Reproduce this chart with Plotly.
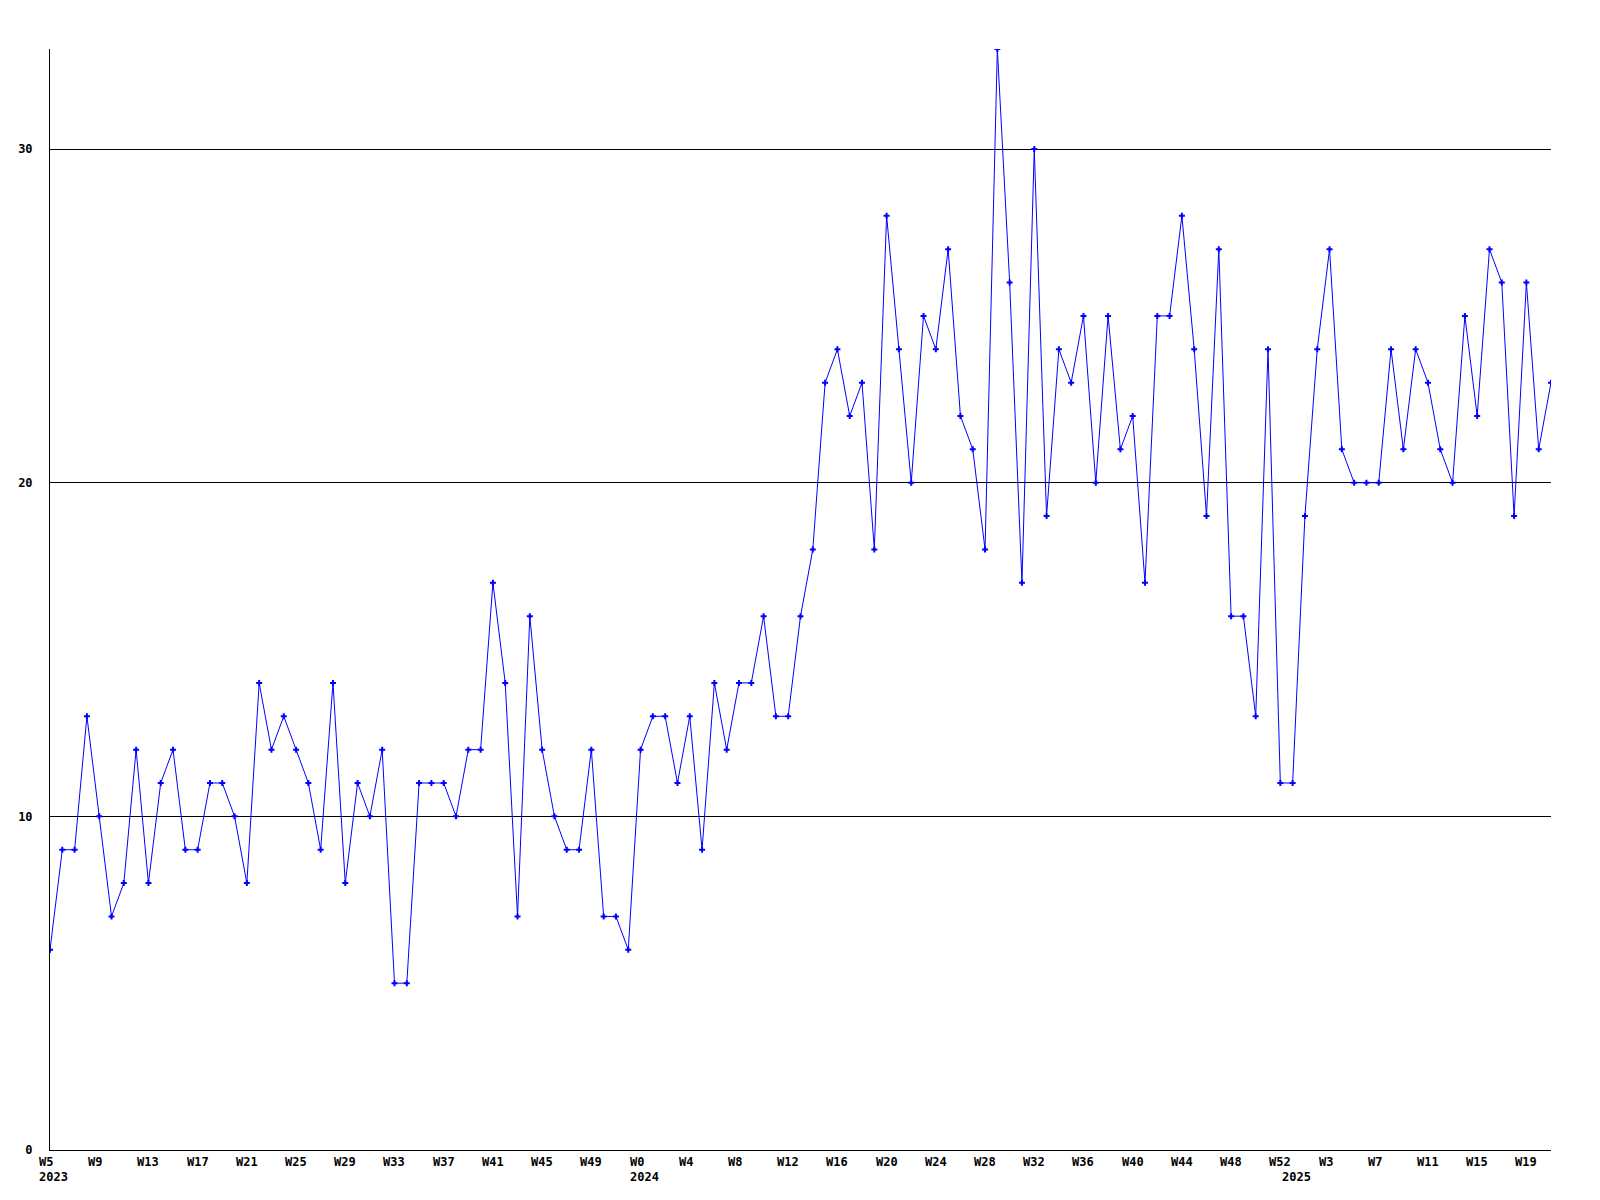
import plotly.graph_objects as go

# ---- data ----
years = [2023, 2024, 2025]
weeks_2023 = list(range(5, 53))     # W5..W52
weeks_2024 = list(range(0, 53))     # W0..W52
weeks_2025 = list(range(0, 22))     # W0..W21

values_2023 = [6, 9, 9, 13, 10, 7, 8, 12, 8, 11, 12, 9, 9, 11, 11, 10,
               8, 14, 12, 13, 12, 11, 9, 14, 8, 11, 10, 12, 5, 5, 11, 11,
               11, 10, 12, 12, 17, 14, 7, 16, 12, 10, 9, 9, 12, 7, 7, 6]
values_2024 = [12, 13, 13, 11, 13, 9, 14, 12, 14, 14, 16, 13, 13, 16, 18, 23,
               24, 22, 23, 18, 28, 24, 20, 25, 24, 27, 22, 21, 18, 33, 26, 17,
               30, 19, 24, 23, 25, 20, 25, 21, 22, 17, 25, 25, 28, 24, 19, 27,
               16, 16, 13, 24, 11]
values_2025 = [11, 19, 24, 27, 21, 20, 20, 20, 24, 21, 24, 23, 21, 20, 25, 22,
               27, 26, 19, 26, 21, 23]

y_ticks = [0, 10, 20, 30]
label_every = 4

# ---- build series ----
week_labels, year_of, values = [], [], []
for yr, wks, vals in zip(years, [weeks_2023, weeks_2024, weeks_2025],
                         [values_2023, values_2024, values_2025]):
    for w, v in zip(wks, vals):
        week_labels.append(f"W{w}")
        year_of.append(yr)
        values.append(v)
idx = list(range(len(values)))

fig = go.Figure()
fig.add_trace(go.Scatter(
    x=idx, y=values, mode="lines+markers",
    line=dict(color="#0000ff", width=1),
    marker=dict(symbol="cross", size=5, color="#0000ff", line=dict(width=0)),
    showlegend=False, hoverinfo="skip",
))

font = dict(family="DejaVu Sans Mono", size=12, color="black", weight="bold")

annotations = []
for i in idx:
    if i % label_every == 0:
        annotations.append(dict(
            x=i, xref="x", y=0, yref="paper", text=week_labels[i],
            showarrow=False, xanchor="left", yanchor="middle",
            xshift=-13, yshift=-12, font=font))
    if i == 0 or year_of[i] != year_of[i - 1]:
        annotations.append(dict(
            x=i, xref="x", y=0, yref="paper", text=str(year_of[i]),
            showarrow=False, xanchor="left", yanchor="middle",
            xshift=-13, yshift=-27, font=font))

fig.update_layout(
    width=1584, height=1184, autosize=False,
    margin=dict(l=42, r=41, t=41, b=42, autoexpand=False),
    paper_bgcolor="white", plot_bgcolor="white",
    annotations=annotations,
    xaxis=dict(range=[0, len(values) - 1], showgrid=False, zeroline=False,
               showline=True, linecolor="black", linewidth=1,
               showticklabels=False, ticks="", automargin=False),
    yaxis=dict(range=[0, max(values)], tickvals=y_ticks,
               ticktext=[str(t) for t in y_ticks],
               showgrid=True, gridcolor="black", gridwidth=1,
               zeroline=False, showline=True, linecolor="black", linewidth=1,
               ticks="", ticklabelstandoff=14, tickfont=font,
               automargin=False),
)

fig.write_html("out.html")
